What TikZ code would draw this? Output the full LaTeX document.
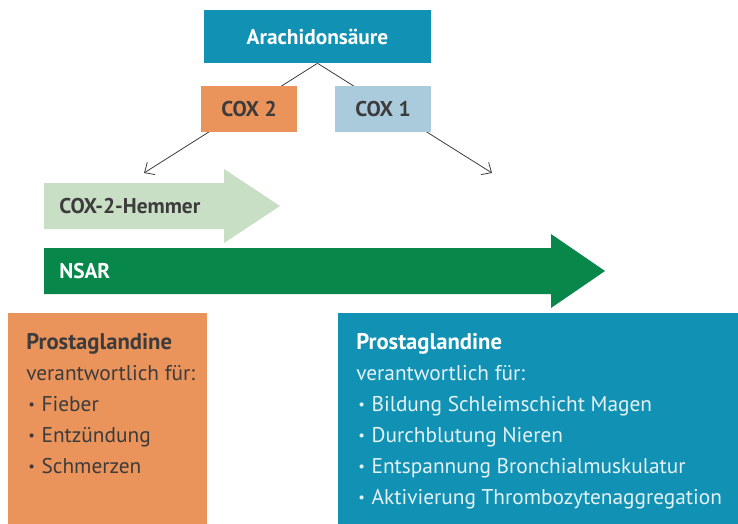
\documentclass[tikz,border=0pt]{standalone}
\usepackage{fontspec}
\setmainfont{PT Sans}
\usetikzlibrary{arrows.meta,positioning}
\definecolor{tealbox}{HTML}{1192B4}
\definecolor{orangebox}{HTML}{EA935A}
\definecolor{coxblue}{HTML}{AACBDC}
\definecolor{hemmergreen}{HTML}{C9DFC5}
\definecolor{nsargreen}{HTML}{07884A}
\definecolor{darktext}{HTML}{3C3C3C}
\definecolor{lighttext}{HTML}{E4F1F5}
\newcommand{\itembullet}{\makebox[10pt][l]{\raisebox{0.8pt}{\fontsize{11}{11}\selectfont\textbullet}}}

\begin{document}
\begin{tikzpicture}[x=0.75pt,y=-0.75pt,
  box/.style={minimum width=72pt,minimum height=34.5pt,inner sep=0pt,
    font=\fontsize{16}{18}\selectfont\bfseries,text=darktext},
  pathline/.style={-{Straight Barb[length=6pt,width=11pt]},darktext,line width=0.6pt},
  item/.style={anchor=base west,inner sep=0pt,font=\fontsize{16}{18}\selectfont},
  head/.style={item,font=\fontsize{17}{19}\selectfont\bfseries}]
  \useasboundingbox (0,0) rectangle (738,524);
  % Arachidonsaeure and the two enzymes
  \node[box,fill=tealbox,text=white,minimum width=170.25pt,minimum height=39.75pt] (ara) at (317.5,36.5) {Arachidonsäure};
  \coordinate (tipL) at (144,173);
  \coordinate (tipR) at (492,173);
  \draw[pathline] (ara.south) -- (tipL);
  \draw[pathline] (ara.south) -- (tipR);
  \node[box,fill=orangebox] (cox2) at (249,109) {COX 2};
  \node[box,fill=coxblue] (cox1) at (383,109) {COX 1};
  % Hemmer arrows
  \fill[hemmergreen] (44,183) -- (224,183) -- (224,169) -- (280,206) -- (224,243) -- (224,229) -- (44,229) -- cycle;
  \node[anchor=west,inner sep=0pt,font=\fontsize{16}{18}\selectfont\bfseries,text=darktext] (hemmer) at (59,206) {COX-2-Hemmer};
  \fill[nsargreen] (44,248) -- (551,248) -- (551,234) -- (605,271) -- (551,308) -- (551,294) -- (44,294) -- cycle;
  \node[anchor=west,inner sep=0pt,font=\fontsize{16}{18}\selectfont\bfseries,text=white] (nsar) at (59,271) {NSAR};
  % COX 2 side
  \fill[orangebox] (8,313) rectangle (207,524);
  \node[head,text=darktext] (lhead) at (26,349) {Prostaglandine};
  \node[item,text=darktext] (lsub) at (26,380) {verantwortlich für:};
  \foreach \t [count=\i] in {Fieber,Entzündung,Schmerzen}
    \node[item,text=darktext] (l\i) at (28,380+31*\i) {\itembullet\t};
  % COX 1 side
  \fill[tealbox] (338,313) rectangle (738,524);
  \node[head,text=white] (rhead) at (356,349) {Prostaglandine};
  \node[item,text=lighttext] (rsub) at (356,380) {verantwortlich für:};
  \foreach \t [count=\i] in {Bildung Schleimschicht Magen,Durchblutung Nieren,
    Entspannung Bronchialmuskulatur,Aktivierung Thrombozytenaggregation}
    \node[item,text=lighttext] (r\i) at (358,380+31*\i) {\itembullet\t};
\end{tikzpicture}
\end{document}
